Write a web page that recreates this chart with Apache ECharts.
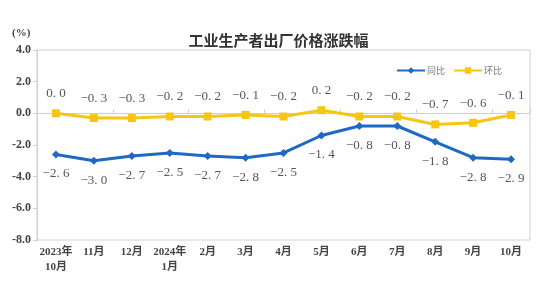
<!DOCTYPE html>
<html lang="zh-CN">
<head>
    <meta charset="UTF-8">
    <title>工业生产者出厂价格涨跌幅</title>
    <script src="https://cdn.jsdelivr.net/npm/echarts@6.0.0/dist/echarts.min.js"></script>
    <style>
        html, body { margin: 0; padding: 0; background: #fff; }
        #chart { width: 557px; height: 296px; }
    </style>
</head>
<body>
    <div id="chart"></div>
    <script>
        // 月份
        const months = ['2023年\n10月', '11月', '12月', '2024年\n1月', '2月', '3月', '4月',
                        '5月', '6月', '7月', '8月', '9月', '10月'];
        // 同比
        const yoy = [-2.6, -3.0, -2.7, -2.5, -2.7, -2.8, -2.5, -1.4, -0.8, -0.8, -1.8, -2.8, -2.9];
        // 环比
        const mom = [0.0, -0.3, -0.3, -0.2, -0.2, -0.1, -0.2, 0.2, -0.2, -0.2, -0.7, -0.6, -0.1];

        const blue = '#1f68c4';
        const yellow = '#f7c514';
        const serif = '"Liberation Serif", "Noto Sans CJK SC", serif';

        // 数据标签: "−2. 6" 这种宋体样式
        function fmt(v) {
            const s = Math.abs(v).toFixed(1).replace('.', '. ');
            return v < 0 ? '\u2212' + s : s;
        }

        const chart = echarts.init(document.getElementById('chart'));

        chart.setOption({
            animation: false,
            title: {
                text: '工业生产者出厂价格涨跌幅',
                left: 'center',
                top: 28,
                textStyle: { fontSize: 15, fontWeight: 'bold', color: '#333', fontFamily: '"Noto Sans CJK SC", sans-serif' }
            },
            graphic: [{
                type: 'text',
                left: 12,
                top: 28,
                style: { text: '(%)', fontSize: 11, fontWeight: 'bold', fill: '#444', fontFamily: serif }
            }],
            legend: {
                right: 50,
                top: 61,
                itemWidth: 28,
                itemHeight: 8,
                itemGap: 8,
                textStyle: { fontSize: 9, color: '#777', fontFamily: '"Noto Sans CJK SC", sans-serif', padding: [0, 0, 0, -3] },
                data: ['同比', '环比']
            },
            grid: {
                left: 37,
                right: 27,
                top: 50,
                bottom: 56,
                show: true,
                borderColor: '#cfcfcf',
                borderWidth: 1
            },
            xAxis: [{
                // 0 轴上的刻度
                type: 'category',
                data: months,
                position: 'bottom',
                axisLine: { onZero: true, lineStyle: { color: '#cfcfcf' } },
                axisTick: { show: true, inside: true, length: 4, lineStyle: { color: '#cfcfcf' } },
                axisLabel: { show: false },
                splitLine: { show: false }
            }, {
                // 底部标签
                type: 'category',
                data: months,
                position: 'bottom',
                axisLine: { show: false, onZero: false },
                axisTick: { show: false },
                axisLabel: {
                    interval: 0,
                    margin: 5,
                    fontSize: 11,
                    fontWeight: 'bold',
                    lineHeight: 15,
                    color: '#444',
                    fontFamily: serif
                }
            }],
            yAxis: {
                type: 'value',
                min: -8,
                max: 4,
                interval: 2,
                axisLine: { show: true, lineStyle: { color: '#cfcfcf' } },
                axisTick: { show: true, length: 4, lineStyle: { color: '#cfcfcf' } },
                axisLabel: {
                    margin: 6,
                    fontSize: 12,
                    fontWeight: 'bold',
                    color: '#444',
                    fontFamily: serif,
                    formatter: v => v.toFixed(1)
                },
                splitLine: { show: false }
            },
            series: [{
                name: '同比',
                type: 'line',
                data: yoy,
                symbol: 'diamond',
                symbolSize: 8,
                color: blue,
                lineStyle: { width: 3 },
                label: {
                    show: true,
                    position: 'bottom',
                    distance: 9,
                    fontSize: 13,
                    color: '#555',
                    fontFamily: serif,
                    formatter: p => fmt(p.value)
                }
            }, {
                name: '环比',
                type: 'line',
                data: mom,
                symbol: 'rect',
                symbolSize: 8,
                color: yellow,
                lineStyle: { width: 3 },
                label: {
                    show: true,
                    position: 'top',
                    distance: 9,
                    fontSize: 13,
                    color: '#555',
                    fontFamily: serif,
                    formatter: p => fmt(p.value)
                }
            }]
        });
    </script>
</body>
</html>
